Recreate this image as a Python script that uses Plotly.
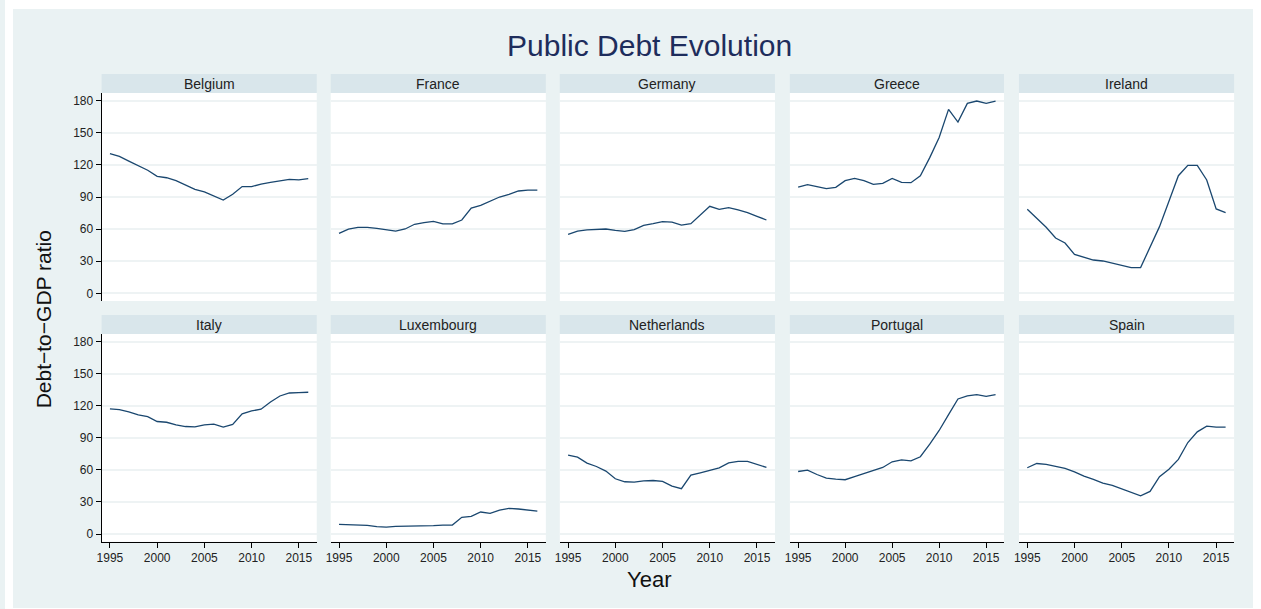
import plotly.graph_objects as go

# Debt-to-GDP ratios (%) by country, 1995-2016
years = list(range(1995, 2017))

countries = ["Belgium", "France", "Germany", "Greece", "Ireland",
             "Italy", "Luxembourg", "Netherlands", "Portugal", "Spain"]

belgium = [130.5, 128.0, 123.6, 119.0, 115.0, 109.3, 108.0, 105.3, 101.5, 97.2, 94.7,
           91.2, 87.2, 92.5, 99.7, 99.7, 102.1, 103.7, 105.0, 106.5, 106.0, 107.1]
france = [56.0, 60.0, 61.7, 61.7, 60.7, 59.2, 58.2, 60.1, 64.5, 66.0, 67.3,
          64.8, 64.8, 68.5, 79.7, 82.1, 85.9, 90.0, 92.5, 95.6, 96.5, 96.5]
germany = [55.1, 58.2, 59.2, 59.8, 60.1, 58.9, 57.9, 59.5, 63.5, 65.1, 67.0,
           66.6, 63.8, 65.1, 73.2, 81.3, 78.5, 80.0, 77.9, 75.4, 71.9, 68.5]
greece = [99.3, 101.5, 99.7, 97.8, 99.0, 105.3, 107.4, 105.3, 101.8, 102.8, 107.4,
          103.7, 103.4, 109.9, 126.8, 145.7, 171.9, 160.0, 177.5, 179.7, 177.5, 179.7]
ireland = [78.5, 70.1, 61.7, 51.7, 47.0, 36.4, 33.6, 31.1, 30.2, 28.3, 26.2,
           24.0, 24.0, 42.7, 62.3, 86.0, 109.9, 119.6, 119.6, 105.9, 78.8, 75.4]
italy = [117.1, 116.5, 114.3, 111.5, 109.9, 105.3, 104.6, 102.1, 100.6, 100.3, 102.1,
         102.8, 100.0, 102.5, 112.4, 115.2, 116.8, 123.6, 129.2, 132.0, 132.4, 132.7]
luxembourg = [9.0, 8.7, 8.4, 8.1, 6.9, 6.5, 7.2, 7.2, 7.2, 7.8, 7.8,
              8.4, 8.4, 15.6, 16.5, 20.6, 19.3, 22.4, 24.0, 23.4, 22.7, 21.5]
netherlands = [73.8, 71.9, 66.3, 63.2, 58.9, 51.7, 48.9, 48.6, 49.8, 50.1, 49.2,
               44.8, 42.4, 55.1, 57.3, 59.5, 62.0, 66.6, 67.9, 67.9, 65.1, 62.3]
portugal = [58.5, 59.8, 55.7, 52.3, 51.4, 50.8, 53.6, 56.4, 58.9, 62.3, 67.6,
            69.4, 68.5, 72.3, 84.1, 96.9, 111.8, 126.4, 129.2, 130.5, 128.9, 130.5]
spain = [62.0, 66.0, 65.1, 63.2, 61.4, 58.2, 54.2, 51.1, 47.6, 45.5, 42.4,
         39.2, 35.8, 39.9, 53.6, 60.7, 69.8, 85.6, 95.6, 100.9, 100.0, 100.0]

series = [belgium, france, germany, greece, ireland,
          italy, luxembourg, netherlands, portugal, spain]

y_ticks = [0, 30, 60, 90, 120, 150, 180]
x_ticks = [1995, 2000, 2005, 2010, 2015]

# Canvas and panel geometry (pixels)
W, H = 1261, 609
col_px = [(97, 313), (327, 543), (557, 773), (788, 1003), (1018, 1234)]
row_px = [(93, 301), (334, 541.7)]          # plot areas (top, bottom)
strip_px = [(74, 93), (315, 334)]           # header strips

BG = "#EAF2F3"
STRIP = "#D9E6EB"
LINE = "#1A476F"
GRID = "#EEF3F4"
FONT = "Liberation Sans, Arial, sans-serif"


def px_x(v):
    return v / W


def px_y(v):
    return 1 - v / H


fig = go.Figure()
layout = dict(
    width=W, height=H,
    margin=dict(l=0, r=0, t=0, b=0),
    paper_bgcolor=BG,
    plot_bgcolor="white",
    showlegend=False,
    font=dict(family=FONT, color="#222222"),
)

# thin white frame around the light outer panel
shapes = [
    dict(type="rect", xref="paper", yref="paper", x0=0, x1=1, y0=px_y(9), y1=1,
         fillcolor="white", line=dict(width=0)),
    dict(type="rect", xref="paper", yref="paper", x0=0, x1=1, y0=0, y1=px_y(608),
         fillcolor="white", line=dict(width=0)),
    dict(type="rect", xref="paper", yref="paper", x0=0, x1=px_x(8), y0=0, y1=1,
         fillcolor="white", line=dict(width=0)),
    dict(type="rect", xref="paper", yref="paper", x0=px_x(1253), x1=1, y0=0, y1=1,
         fillcolor="white", line=dict(width=0)),
]
annotations = []

for i, (name, vals) in enumerate(zip(countries, series)):
    r, c = divmod(i, 5)
    n = i + 1
    xa = "x" if n == 1 else f"x{n}"
    ya = "y" if n == 1 else f"y{n}"
    fig.add_trace(go.Scatter(
        x=years, y=vals, mode="lines", xaxis=xa, yaxis=ya,
        line=dict(color=LINE, width=1.3), hoverinfo="x+y", name=name,
    ))

    x0, x1 = col_px[c]
    y0, y1 = row_px[r]
    left = c == 0
    bottom = r == 1

    layout["xaxis" if n == 1 else f"xaxis{n}"] = dict(
        domain=[px_x(x0), px_x(x1)], anchor=ya,
        range=[1994.12, 2016.9],
        tickvals=x_ticks, showticklabels=bottom,
        ticks="outside" if bottom else "", ticklen=5, tickcolor="black",
        showline=bottom, linecolor="black", linewidth=1,
        showgrid=False, zeroline=False,
        tickfont=dict(size=12, color="#222222", family=FONT),
    )
    layout["yaxis" if n == 1 else f"yaxis{n}"] = dict(
        domain=[px_y(y1), px_y(y0)], anchor=xa,
        range=[-7.2, 187.2],
        tickvals=y_ticks, showticklabels=left,
        ticks="outside" if left else "", ticklen=5, tickcolor="black",
        showline=left, linecolor="black", linewidth=1,
        showgrid=True, gridcolor=GRID, gridwidth=1.5, zeroline=False,
        tickfont=dict(size=12, color="#222222", family=FONT),
    )

    s0, s1 = strip_px[r]
    shapes.append(dict(type="rect", xref="paper", yref="paper",
                       x0=px_x(x0), x1=px_x(x1), y0=px_y(s1), y1=px_y(s0),
                       fillcolor=STRIP, line=dict(width=0)))
    annotations.append(dict(text=name, xref="paper", yref="paper",
                            x=px_x((x0 + x1) / 2), y=px_y((s0 + s1) / 2),
                            xanchor="center", yanchor="middle", showarrow=False,
                            font=dict(size=14, color="#222222", family=FONT)))

annotations += [
    dict(text="Public Debt Evolution", xref="paper", yref="paper",
         x=px_x(647), y=px_y(45), xanchor="center", yanchor="middle",
         showarrow=False, font=dict(size=30, color="#1E2D5C", family=FONT)),
    dict(text="Debt\u2212to\u2212GDP ratio", xref="paper", yref="paper",
         x=px_x(38.5), y=px_y(319), xanchor="center", yanchor="middle",
         textangle=-90, showarrow=False,
         font=dict(size=21, color="#111111", family=FONT)),
    dict(text="Year", xref="paper", yref="paper",
         x=px_x(647), y=px_y(579), xanchor="center", yanchor="middle",
         showarrow=False, font=dict(size=22, color="#111111", family=FONT)),
]

layout["shapes"] = shapes
layout["annotations"] = annotations
fig.update_layout(**layout)

fig.write_html("out.html")
